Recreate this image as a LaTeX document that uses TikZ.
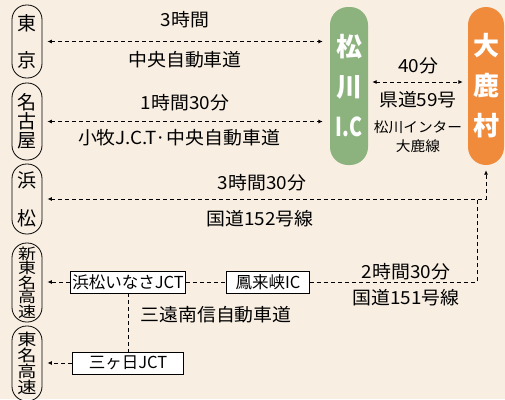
\documentclass[tikz,border=0pt]{standalone}
\usepackage{fontspec}
\setmainfont{Noto Sans CJK JP}
\newfontfamily\widejp{Noto Sans CJK JP}[FakeStretch=1.05]
\newfontfamily\pilljp{Noto Sans CJK JP}[FakeStretch=1.2]
\newfontfamily\condjp{Noto Sans CJK JP}[FakeStretch=0.75]
\usetikzlibrary{arrows.meta}

\definecolor{paper}{HTML}{F8EEE2}
\definecolor{leaf}{HTML}{8CB27E}
\definecolor{dusk}{HTML}{EF8B3B}

\tikzset{
  road/.style={dash pattern=on 4pt off 3pt, line width=1pt},
  tip/.style={-{Latex[length=4.5pt,width=4pt]}},
  twotip/.style={{Latex[length=4.5pt,width=4pt]}-{Latex[length=4.5pt,width=4pt]}},
  city/.style={draw, line width=0.8pt, rounded corners=14.5pt, minimum width=30pt, inner sep=0pt, align=center},
  goal/.style={fill=#1, rounded corners=18pt, minimum height=158pt, inner sep=0pt, text=white, align=center, font=\bfseries\fontsize{26}{40}\selectfont},
  jct/.style={draw, fill=white, line width=0.8pt, minimum height=22pt, inner sep=2pt, font=\fontsize{16.5}{16.5}\selectfont},
  lbl/.style={font=\widejp\fontsize{18}{18}\selectfont},
  small/.style={align=center, font=\widejp\fontsize{14}{19}\selectfont}
}

\begin{document}
\begin{tikzpicture}[x=1pt,y=-1pt]
  \fill[paper] (0,0) rectangle (505,399);
  \useasboundingbox (0,0) rectangle (505,399);

  \begin{scope}[every node/.style={city}]
    \node[minimum height=73pt, font=\fontsize{19}{23}\selectfont] (tokyo) at (27,41.5) {東\\[14pt]京};
    \node[minimum height=77pt, font=\fontsize{19}{19}\selectfont] (nagoya) at (27,121.5) {名\\古\\屋};
    \node[minimum height=70pt, font=\fontsize{19}{23}\selectfont] (hama) at (27,199) {浜\\[15pt]松};
    \node[minimum height=79pt, font=\pilljp\fontsize{15}{14.5}\selectfont] (shintomei) at (27,282.5) {新\\東\\名\\高\\速};
    \node[minimum height=75pt, font=\pilljp\fontsize{16}{16}\selectfont] (tomei) at (27,363.5) {東\\名\\高\\速};
  \end{scope}

  \node[goal=leaf, minimum width=38pt] (matsu) at (349,86) {松\\川\\{\condjp I.C}};
  \node[goal=dusk, minimum width=36pt] (ohshika) at (486,86) {大\\鹿\\村};

  \begin{scope}[every node/.style={jct}]
    \node[minimum width=111pt] (inasa) at (128,282) {浜松いなさJCT};
    \node[minimum width=111pt] (mikkabi) at (128,363) {三ヶ日JCT};
    \node[minimum width=83pt] (hourai) at (268,282) {鳳来峡IC};
  \end{scope}

  \coordinate (split) at (477,199);

  \begin{scope}[road]
    \draw[twotip, shorten <=5pt, shorten >=7pt] (tokyo.east) -- (matsu.west |- tokyo.east);
    \draw[twotip, shorten <=5pt, shorten >=7pt] (nagoya.east) -- (matsu.west |- nagoya.east);
    \draw[twotip, shorten <=4pt, shorten >=5pt] (matsu.east |- 0,82) -- (ohshika.west |- 0,82);
    \draw[twotip, shorten <=5pt, shorten >=5pt] (hama.east) -- (ohshika.south |- hama.east) -- (ohshika.south);
    \draw (hourai.east) -| (split);
    \draw (inasa.east) -- (hourai.west);
    \draw (inasa.south) -- (mikkabi.north);
    \draw[tip, shorten >=5pt] (inasa.west) -- (shintomei.east |- inasa.west);
    \draw[tip, shorten >=5pt] (mikkabi.west) -- (tomei.east |- mikkabi.west);
  \end{scope}

  \begin{scope}[every node/.style={lbl}]
    \node (t1) at (185,20) {3時間};
    \node (t2) at (185,60) {中央自動車道};
    \node (n1) at (185,103) {1時間30分};
    \node (n2) at (179,138) {小牧J.C.T·中央自動車道};
    \node (m1) at (418,66) {40分};
    \node (m2) at (418,100) {県道59号};
    \node (h1) at (262,183) {3時間30分};
    \node (h2) at (260,219) {国道152号線};
    \node (s1) at (216,315) {三遠南信自動車道};
    \node (r1) at (406,272) {2時間30分};
    \node (r2) at (406,298) {国道151号線};
  \end{scope}
  \node[small] (m3) at (418,137) {松川インター\\大鹿線};

\end{tikzpicture}
\end{document}
